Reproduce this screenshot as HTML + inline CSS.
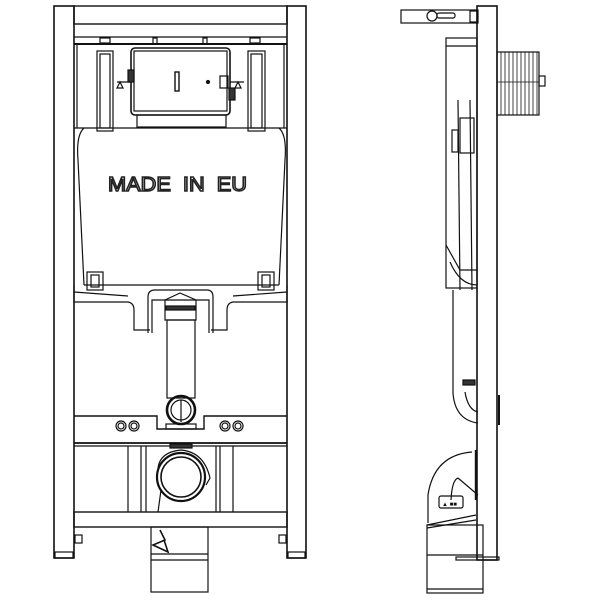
<!DOCTYPE html>
<html><head><meta charset="utf-8"><style>html,body{margin:0;padding:0;background:#fff}svg{display:block}</style></head>
<body>
<svg width="600" height="600" viewBox="0 0 600 600" xmlns="http://www.w3.org/2000/svg" fill="none" stroke="#111" stroke-width="1.2">
<!-- FRONT VIEW -->
<rect x="54" y="6" width="20" height="552" stroke-width="1.6"/>
<rect x="287" y="6" width="19" height="552" stroke-width="1.6"/>
<rect x="55" y="552" width="18" height="6"/><rect x="288" y="552" width="17" height="6"/>
<rect x="74" y="6" width="213" height="18" stroke-width="1.4"/>
<line x1="74" y1="37" x2="287" y2="37"/>
<line x1="74" y1="44" x2="287" y2="44" stroke-width="2"/>
<rect x="100" y="38" width="10" height="5"/><rect x="250" y="38" width="10" height="5"/>
<rect x="153" y="38" width="4" height="6"/><rect x="203" y="38" width="4" height="6"/>
<line x1="77" y1="44" x2="77" y2="128"/><line x1="284" y1="44" x2="284" y2="128"/>
<line x1="74" y1="128" x2="287" y2="128"/>
<rect x="97" y="51" width="16" height="80"/><rect x="100" y="54" width="10" height="74"/>
<rect x="248" y="51" width="17" height="80"/><rect x="251" y="54" width="11" height="74"/>
<rect x="131" y="48" width="99" height="67" rx="4" stroke-width="1.6"/>
<rect x="134" y="51" width="93" height="60"/>
<rect x="137" y="115" width="89" height="12"/>
<rect x="175" y="72" width="4" height="19" stroke-width="1.4"/>
<circle cx="208" cy="82" r="1.5" fill="#111"/>
<rect x="128" y="70" width="6" height="12" fill="#333"/>
<rect x="229" y="88" width="6" height="12" fill="#333"/>
<path d="M220 76h8v12h-8z"/>
<path d="M117 82h14M120 82l-3 6h6z"/><path d="M230 82h14M238 82l-3 6h6z"/>
<path d="M84 128 Q76 135 78 160 L84 285 M279 128 Q287 135 285 160 L279 285"/>
<line x1="84" y1="285" x2="279" y2="285"/>
<path d="M74 285 L74 302 L128 302 Q134 303 134 310 L134 330 L150 330"/>
<path d="M74 292 L128 296"/>
<path d="M287 285 L287 302 L233 302 Q227 303 227 310 L227 330 L211 330"/>
<path d="M287 292 L233 296"/>
<rect x="87" y="272" width="16" height="18"/><rect x="91" y="275" width="8" height="12"/>
<rect x="258" y="272" width="16" height="18"/><rect x="262" y="275" width="8" height="12"/>
<path d="M148 333 L148 297 Q148 290 155 290 L207 290 Q213 290 213 297 L213 333"/>
<path d="M152 333 L152 300 L209 300 L209 333"/>
<path d="M165 300 L180 293 L196 300 L196 320 L165 320 Z"/>
<rect x="166" y="306" width="29" height="4" fill="#333"/>
<text x="108" y="191" font-family="Liberation Sans, sans-serif" font-size="20" fill="#fff" stroke="#222" stroke-width="1.5" textLength="139" lengthAdjust="spacingAndGlyphs" xml:space="preserve">MADE  IN  EU</text>
<rect x="167" y="320" width="28" height="78"/>
<circle cx="181" cy="410" r="14" stroke-width="2.6"/>
<circle cx="181" cy="410" r="10"/>
<line x1="181" y1="400" x2="181" y2="422"/>
<path d="M74 416 L157 416 L157 429 L204 429 L204 416 L287 416" stroke-width="1.4"/>
<line x1="74" y1="443" x2="287" y2="443" stroke-width="1.8"/>
<line x1="74" y1="446" x2="287" y2="446"/>
<rect x="166" y="424" width="30" height="5"/>
<circle cx="121" cy="426" r="5"/><circle cx="121" cy="426" r="3"/>
<circle cx="134" cy="426" r="5"/><circle cx="134" cy="426" r="3"/>
<circle cx="225" cy="426" r="5"/><circle cx="225" cy="426" r="3"/>
<circle cx="238" cy="426" r="5"/><circle cx="238" cy="426" r="3"/>
<line x1="128" y1="446" x2="128" y2="512"/><line x1="141" y1="446" x2="141" y2="512"/>
<line x1="220" y1="446" x2="220" y2="512"/><line x1="233" y1="446" x2="233" y2="512"/>
<line x1="146" y1="446" x2="146" y2="512"/><line x1="216" y1="446" x2="216" y2="512"/>
<path d="M158 468 Q160 452 181 450 Q204 452 210 478 L206 485"/>
<circle cx="181" cy="477" r="24" stroke-width="2.2"/>
<circle cx="181" cy="477" r="20" stroke-width="1.6"/>
<rect x="170" y="444" width="22" height="4" fill="#333"/>
<path d="M161 490 L158 512"/>
<rect x="74" y="512" width="213" height="15" stroke-width="1.4"/>
<rect x="75" y="535" width="7" height="8"/><rect x="279" y="535" width="7" height="8"/>
<rect x="151" y="527" width="57" height="65"/>
<line x1="151" y1="554" x2="208" y2="554"/><line x1="151" y1="560" x2="208" y2="560"/>
<path d="M160 530 L165 540 L153 545 L168 552 L164 540" stroke-width="1.6"/>
<!-- SIDE VIEW -->
<rect x="477" y="6" width="20" height="554" stroke-width="1.6"/>
<rect x="401" y="10" width="77" height="13"/>
<circle cx="432" cy="16" r="5"/><rect x="437" y="13" width="18" height="5" rx="2"/>
<rect x="470" y="11" width="7" height="11"/>
<rect x="497" y="52" width="42" height="63"/>
<g stroke-width="0.8">
<line x1="501" y1="52" x2="501" y2="115"/><line x1="505" y1="52" x2="505" y2="115"/><line x1="509" y1="52" x2="509" y2="115"/><line x1="513" y1="52" x2="513" y2="115"/><line x1="517" y1="52" x2="517" y2="115"/><line x1="521" y1="52" x2="521" y2="115"/><line x1="525" y1="52" x2="525" y2="115"/><line x1="529" y1="52" x2="529" y2="115"/><line x1="533" y1="52" x2="533" y2="115"/><line x1="537" y1="52" x2="537" y2="115"/>
<line x1="497" y1="82" x2="539" y2="82"/>
</g>
<rect x="539" y="76" width="6" height="10"/>
<rect x="446" y="38" width="31" height="250"/>
<line x1="446" y1="46" x2="477" y2="46"/>
<path d="M458 100 L460 290 M470 100 L472 290"/>
<rect x="460" y="118" width="14" height="35"/>
<rect x="452" y="130" width="6" height="22"/>
<path d="M446 245 L460 270 L477 270 M450 262 Q460 285 477 285"/>
<path d="M453 290 L453 393 Q455 420 478 423"/>
<path d="M465 392 Q468 410 478 412"/>
<rect x="463" y="380" width="12" height="5" fill="#333"/>
<line x1="499" y1="395" x2="499" y2="425" stroke-width="2"/>
<path d="M472 452 Q434 455 428 495 L428 523"/>
<path d="M458 478 L478 495 M458 478 Q452 480 451 500"/>
<line x1="476" y1="450" x2="476" y2="500" stroke-width="2.4"/>
<rect x="439" y="496" width="24" height="12" rx="2"/>
<text x="442" y="506" font-family="Liberation Sans, sans-serif" font-size="6" fill="#111" stroke="none">▲ ■■</text>
<path d="M427 525 L476 515 M427 528 L476 520"/>
<rect x="427" y="525" width="56" height="68"/>
<line x1="427" y1="555" x2="483" y2="555"/>
<line x1="427" y1="589" x2="483" y2="589"/>
<rect x="456" y="557" width="43" height="3"/>
</svg>
</body></html>
